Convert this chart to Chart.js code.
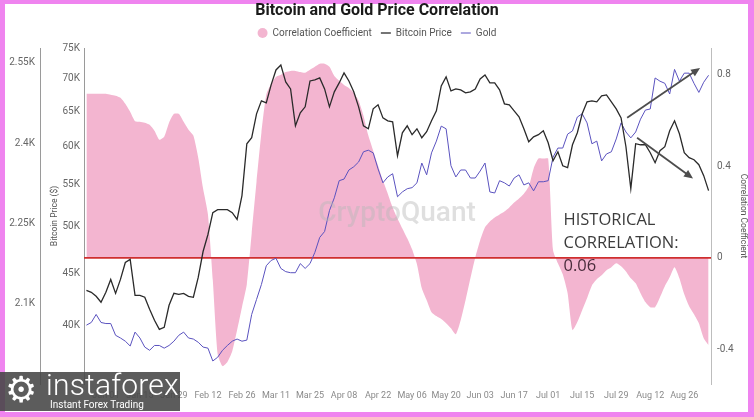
<!DOCTYPE html>
<html>
<head>
<meta charset="utf-8">
<script src="https://cdn.jsdelivr.net/npm/chart.js@4.4.1/dist/chart.umd.min.js"></script>
<style>
  html, body { margin:0; padding:0; width:754px; height:417px; overflow:hidden; background:#ef84ef; }
  #paper { position:absolute; left:5px; top:4px; width:743px; height:408px; background:#ffffff; }
  #c { position:absolute; left:0; top:0; }
  #logo { position:absolute; left:0; top:372px; width:180px; height:39px; background:rgba(70,70,70,0.88); color:#fff; font-family:Roboto, sans-serif; overflow:hidden; }
  #logo .gear { position:absolute; left:5px; top:-4px; font-family:"DejaVu Sans"; font-size:36px; line-height:44px; }
  #logo .name { position:absolute; left:46px; top:-6px; font-size:30px; font-weight:300; line-height:38px; letter-spacing:0.2px; }
  #logo .sub { position:absolute; left:50px; top:27px; font-size:10px; line-height:11px; }
</style>
</head>
<body>
<div id="paper"></div>
<canvas id="c" width="754" height="417"></canvas>
<div id="logo"><span class="gear">⚙</span><span class="name">instaforex</span><span class="sub">Instant Forex Trading</span></div>
<script>
// ---- data ----
const startDate = '2023-12-23';           // day 0 of the x axis
const lastDay = 258;                      // day offset of the right edge
const xTickLabels = ['Jan 01','Jan 15','Jan 29','Feb 12','Feb 26','Mar 11','Mar 25','Apr 08','Apr 22','May 06','May 20','Jun 03','Jun 17','Jul 01','Jul 15','Jul 29','Aug 12','Aug 26'];
const btcTicks = [40000,45000,50000,55000,60000,65000,70000,75000];
const goldTicks = [2100,2250,2400,2550];
const corrTicks = [-0.4,0,0.4,0.8];

const correlation = [
  0.715,0.715,0.715,0.715,0.715,0.711,0.707,0.698,0.672,0.637,
  0.596,0.593,0.589,0.580,0.554,0.515,0.528,0.589,0.628,0.628,
  0.593,0.559,0.533,0.437,0.302,0.189,-0.098,-0.420,-0.472,-0.454,
  -0.407,-0.315,-0.215,-0.115,0.107,0.333,0.546,0.711,0.759,0.789,
  0.798,0.810,0.815,0.815,0.810,0.807,0.820,0.833,0.846,0.846,
  0.833,0.793,0.772,0.754,0.741,0.720,0.685,0.620,0.533,0.467,
  0.402,0.337,0.280,0.220,0.172,0.128,0.085,0.037,-0.028,-0.133,
  -0.185,-0.237,-0.254,-0.267,-0.285,-0.307,-0.333,-0.272,-0.185,-0.089,
  0.002,0.076,0.133,0.159,0.176,0.189,0.202,0.220,0.241,0.259,
  0.280,0.311,0.389,0.433,0.433,0.433,0.033,-0.024,-0.072,-0.154,
  -0.315,-0.280,-0.228,-0.176,-0.120,-0.093,-0.076,-0.054,-0.041,-0.024,
  -0.037,-0.059,-0.089,-0.111,-0.154,-0.193,-0.215,-0.215,-0.172,-0.124,
  -0.085,-0.041,-0.089,-0.159,-0.211,-0.246,-0.285,-0.350,-0.380
];
const bitcoin = [
  43280,43090,42700,42130,43090,44370,42990,44370,46110,46430,
  42800,42800,42610,41460,40440,39620,39800,41840,42990,42890,
  42990,42700,42610,44570,47270,49130,51630,51980,51980,51980,
  51630,50830,53660,60360,61190,64600,66530,66230,68980,71360,
  72170,69450,68350,62860,64740,65630,69600,69760,70080,68350,
  65630,67900,69290,70880,69600,67900,65630,62860,62440,65330,
  65930,64010,63580,63440,58740,61880,62860,61610,62440,61190,
  62020,63580,65040,68820,70240,68050,68350,68200,67740,67900,
  68350,69920,70550,69290,69290,68200,66080,65930,65040,64160,
  62440,60630,61320,61610,62160,60500,58080,59270,57420,57170,
  60220,61880,64600,66380,66530,66380,67280,67430,66380,65330,
  64010,59950,54520,60360,60220,60220,59140,57820,59410,59950,
  62160,63580,61740,59140,58480,58210,57560,56150,54270
];
const gold = [
  2060,2065,2080,2065,2063,2063,2041,2036,2030,2021,
  2047,2036,2019,2013,2022,2022,2017,2022,2030,2041,
  2047,2036,2034,2028,2019,2017,1993,2000,2013,2022,
  2030,2034,2030,2032,2080,2108,2136,2171,2181,2185,
  2166,2160,2158,2158,2175,2166,2175,2196,2224,2235,
  2274,2298,2330,2333,2350,2356,2365,2384,2387,2382,
  2352,2326,2337,2343,2300,2309,2315,2317,2326,2363,
  2341,2382,2404,2432,2427,2358,2337,2350,2350,2335,
  2335,2348,2363,2309,2307,2330,2326,2320,2335,2341,
  2322,2326,2311,2328,2328,2330,2374,2391,2391,2417,
  2423,2449,2455,2438,2399,2404,2367,2380,2384,2408,
  2438,2421,2410,2421,2445,2462,2464,2522,2516,2512,
  2492,2538,2516,2531,2531,2512,2495,2514,2527
];
const historicalLevel = 0;   // red reference line on the correlation axis

// ---- category positions (day offsets, every second day) ----
const DAY = 86400000;
const t0 = Date.UTC(2023, 11, 23);
const sampleDays = bitcoin.map((_, i) => 1 + 2 * i);
const monthIdx = {Jan:0,Feb:1,Mar:2,Apr:3,May:4,Jun:5,Jul:6,Aug:7,Sep:8,Oct:9,Nov:10,Dec:11};
const tickDays = xTickLabels.map(l => {
  const [m, d] = l.split(' ');
  return Math.round((Date.UTC(2024, monthIdx[m], +d) - t0) / DAY);
});

// annotation anchors (in data units: day offset, correlation)
const watermark = {text:'CryptoQuant', day:128.8, corr:0.193};
const note = {lines:['HISTORICAL','CORRELATION:','0.06'], day:197.3, corr:0.165};
const arrows = [
  {from:[223.5, 0.611], to:[253.5, 0.828]},
  {from:[227.6, 0.524], to:[250.6, 0.346]}
];

const overlay = {
  id:'overlay',
  afterDatasetsDraw(chart) {
    const {ctx} = chart;
    const x = chart.scales.x, y = chart.scales.yCorr;
    ctx.save();
    ctx.font = '500 28px Roboto';
    ctx.fillStyle = 'rgba(185,185,185,0.45)';
    ctx.textAlign = 'center'; ctx.textBaseline = 'middle';
    ctx.fillText(watermark.text, x.getPixelForValue(watermark.day), y.getPixelForValue(watermark.corr));

    ctx.font = '16.5px "Open Sans"';
    ctx.textAlign = 'left';
    const nx = x.getPixelForValue(note.day), ny = y.getPixelForValue(note.corr);
    note.lines.forEach((t, k) => {
      ctx.fillStyle = k === 2 ? '#4a2c3c' : '#3c3c3c';
      ctx.fillText(t, nx, ny + k * 23);
    });

    ctx.strokeStyle = '#4d4d4d'; ctx.fillStyle = '#4d4d4d'; ctx.lineWidth = 1.8;
    arrows.forEach(a => {
      const x1 = x.getPixelForValue(a.from[0]), y1 = y.getPixelForValue(a.from[1]);
      const x2 = x.getPixelForValue(a.to[0]), y2 = y.getPixelForValue(a.to[1]);
      const ang = Math.atan2(y2 - y1, x2 - x1);
      ctx.beginPath(); ctx.moveTo(x1, y1);
      ctx.lineTo(x2 - 6 * Math.cos(ang), y2 - 6 * Math.sin(ang)); ctx.stroke();
      ctx.beginPath();
      ctx.moveTo(x2, y2);
      ctx.lineTo(x2 - 9 * Math.cos(ang) + 4 * Math.sin(ang), y2 - 9 * Math.sin(ang) - 4 * Math.cos(ang));
      ctx.lineTo(x2 - 9 * Math.cos(ang) - 4 * Math.sin(ang), y2 - 9 * Math.sin(ang) + 4 * Math.cos(ang));
      ctx.closePath(); ctx.fill();
    });
    ctx.restore();
  }
};

const tickFont = {family:'Roboto', size:10};
new Chart(document.getElementById('c'), {
  type:'line',
  data:{
    labels: sampleDays,
    datasets:[
      {label:'Correlation Coefficient', data:correlation, yAxisID:'yCorr', fill:'origin',
       backgroundColor:'#f3b5d0', borderColor:'#f3b5d0', borderWidth:0, pointRadius:0, pointStyle:'circle', order:10, tension:0.2},
      {label:'Bitcoin Price', data:bitcoin, yAxisID:'yBtc', borderColor:'#2a2a2a', backgroundColor:'#2a2a2a',
       borderWidth:1.3, pointRadius:0, pointStyle:'line', fill:false, order:1},
      {label:'Gold', data:gold, yAxisID:'yGold', borderColor:'#5a52bf', backgroundColor:'#5a52bf',
       borderWidth:1, pointRadius:0, pointStyle:'line', fill:false, order:2},
      {label:'Historical', data:[{x:0, y:historicalLevel},{x:lastDay, y:historicalLevel}], yAxisID:'yCorr',
       borderColor:'#cf2f2f', borderWidth:1.6, pointRadius:0, fill:false, order:5}
    ]
  },
  options:{
    responsive:false, animation:false, devicePixelRatio:1,
    layout:{padding:{top:0,left:0,right:0,bottom:0}},
    plugins:{
      title:{display:true, text:'Bitcoin and Gold Price Correlation', color:'#1a1a1a',
             font:{family:'Roboto', size:16, weight:'bold', lineHeight:1.0}, padding:{top:3, bottom:0}},
      legend:{position:'top', labels:{usePointStyle:true, pointStyleWidth:10, boxHeight:7, padding:9,
              color:'#555', font:{family:'Roboto', size:10},
              filter:(item) => item.datasetIndex !== 3,
              sort:(a, b) => a.datasetIndex - b.datasetIndex}},
      tooltip:{enabled:false}
    },
    scales:{
      x:{type:'linear', min:0, max:lastDay,
         grid:{display:false, drawTicks:false}, border:{display:false},
         afterBuildTicks:s => { s.ticks = tickDays.map(v => ({value:v})); },
         afterFit:s => { s.height = 33; },
         ticks:{autoSkip:false, maxRotation:0, padding:6, color:'#8a8a8a', font:{family:'Roboto', size:9},
                callback:(v, i) => xTickLabels[i]}},
      yBtc:{type:'logarithmic', position:'left', weight:0, min:35000, max:75000,
         grid:{display:false, drawTicks:false}, border:{display:true, color:'#9a9a9a', width:1},
         afterBuildTicks:s => { s.ticks = btcTicks.map(v => ({value:v})); },
         afterFit:s => { s.width = 44; },
         title:{display:true, text:'Bitcoin Price ($)', color:'#555', font:{family:'Roboto', size:8.5}, padding:{top:10, bottom:0}},
         ticks:{padding:4, color:'#666', font:tickFont, callback:v => (v / 1000) + 'K'}},
      yGold:{type:'linear', position:'left', weight:1, min:1950, max:2578,
         grid:{display:false, drawTicks:false}, border:{display:true, color:'#9a9a9a', width:1},
         afterBuildTicks:s => { s.ticks = goldTicks.map(v => ({value:v})); },
         afterFit:s => { s.width = 40; },
         ticks:{padding:5, color:'#666', font:tickFont, callback:v => (v / 1000) + 'K'}},
      yCorr:{type:'linear', position:'right', min:-0.55, max:0.915,
         grid:{display:false, drawTicks:false}, border:{display:true, color:'#bdbdbd', width:1},
         afterBuildTicks:s => { s.ticks = corrTicks.map(v => ({value:v})); },
         afterFit:s => { s.width = 43; },
         title:{display:true, text:'Correlation Coefficient', color:'#555', font:{family:'Roboto', size:8.5}, padding:{top:6, bottom:0}},
         ticks:{padding:6, color:'#666', font:tickFont, callback:v => String(v)}}
    }
  },
  plugins:[overlay]
});
</script>
</body>
</html>
